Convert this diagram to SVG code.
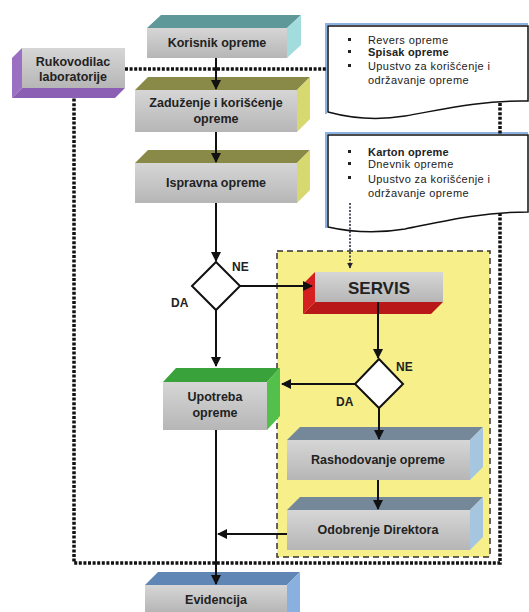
<svg xmlns="http://www.w3.org/2000/svg" width="529" height="612" viewBox="0 0 529 612">
<defs>
<linearGradient id="gface" x1="0" y1="0" x2="0" y2="1">
<stop offset="0" stop-color="#d6d6d6"/>
<stop offset="1" stop-color="#b6b6b6"/>
</linearGradient>
<marker id="ah" viewBox="0 0 10 10" refX="9" refY="5" markerWidth="5" markerHeight="5" orient="auto">
<path d="M0,0 L10,5 L0,10 z" fill="#111"/>
</marker>
<marker id="ah2" viewBox="0 0 10 10" refX="9" refY="5" markerWidth="4" markerHeight="4" orient="auto">
<path d="M0,0 L10,5 L0,10 z" fill="#223"/>
</marker>
</defs>
<style>
.face{fill:url(#gface);}
.lbl{font-family:"Liberation Sans",Arial,sans-serif;font-weight:bold;font-size:12.5px;fill:#222;text-anchor:middle;}
.doc{font-family:"Liberation Sans",Arial,sans-serif;font-size:11px;letter-spacing:0.4px;fill:#222;}
.b{font-weight:bold;letter-spacing:0.2px;}
.yn{font-family:"Liberation Sans",Arial,sans-serif;font-weight:bold;font-size:12px;fill:#222;}
.arr{stroke:#111;stroke-width:2;fill:none;marker-end:url(#ah);}
.dots{stroke:#111;stroke-width:3.5;fill:none;stroke-dasharray:3 1.6;}
.dia{fill:#fff;stroke:#111;stroke-width:2;}
.docshape{fill:#fff;stroke:#111;stroke-width:1.5;}
.docshadow{fill:none;stroke:#6f9fdc;stroke-width:2;opacity:0.8;}
</style>

<g id="servis-zone">
<rect x="277" y="251" width="213" height="306" fill="#f7ef8a" stroke="#333" stroke-width="1.5" stroke-dasharray="6 4"/>
</g>

<g id="doc1">
<path class="docshadow" d="M326,114 V24 H528"/>
<path class="docshape" d="M328,26 H528 V101 C480,100 440,110 405,116 C375,121 350,118 328,112 Z"/>
<rect x="348" y="38" width="3" height="3" fill="#222"/>
<rect x="348" y="50" width="3" height="3" fill="#222"/>
<rect x="348" y="64" width="3" height="3" fill="#222"/>
<text class="doc" x="368" y="44">Revers opreme</text>
<text class="doc b" x="368" y="56">Spisak opreme</text>
<text class="doc" x="368" y="70">Upustvo za korišćenje i</text>
<text class="doc" x="368" y="84">održavanje opreme</text>
</g>

<g id="doc2">
<path class="docshadow" d="M326,228 V133 H528"/>
<path class="docshape" d="M328,135 H528 V212 C480,212 440,222 405,229 C375,234 350,232 328,227 Z"/>
<rect x="348" y="150" width="3" height="3" fill="#222"/>
<rect x="348" y="162" width="3" height="3" fill="#222"/>
<rect x="348" y="176" width="3" height="3" fill="#222"/>
<text class="doc b" x="368" y="156">Karton opreme</text>
<text class="doc" x="368" y="168">Dnevnik opreme</text>
<text class="doc" x="368" y="183">Upustvo za korišćenje i</text>
<text class="doc" x="368" y="197">održavanje opreme</text>
</g>

<g id="rukovodilac">
<polygon points="22,48 22,88 12,98 12,58" fill="#9b6fc2"/>
<polygon points="22,88 125,88 115,98 12,98" fill="#8a5fb4"/>
<rect class="face" x="22" y="48" width="103" height="40"/>
<text class="lbl" x="73" y="66">Rukovodilac</text>
<text class="lbl" x="73" y="81">laboratorije</text>
</g>

<g id="korisnik">
<polygon points="147,28 161,15 301,15 287,28" fill="#5e9898"/>
<polygon points="287,28 301,15 301,45 287,58" fill="#a2dcdc"/>
<rect class="face" x="147" y="28" width="140" height="30"/>
<text class="lbl" x="217" y="47">Korisnik opreme</text>
</g>

<g id="zaduzenje">
<polygon points="135,90 148,77 310,77 297,90" fill="#8a8a48"/>
<polygon points="297,90 310,77 310,119 297,132" fill="#d8d870"/>
<rect class="face" x="135" y="90" width="162" height="42"/>
<text class="lbl" x="216" y="107">Zaduženje i korišćenje</text>
<text class="lbl" x="216" y="123">opreme</text>
</g>

<g id="ispravna">
<polygon points="135,163 148,150 310,150 297,163" fill="#8a8a48"/>
<polygon points="297,163 310,150 310,190 297,203" fill="#d8d870"/>
<rect class="face" x="135" y="163" width="162" height="40"/>
<text class="lbl" x="216" y="187">Ispravna opreme</text>
</g>

<g id="odluka1">
<polygon class="dia" points="216,262 240,286 216,310 192,286"/>
<text class="yn" x="232" y="271">NE</text>
<text class="yn" x="171" y="307">DA</text>
</g>

<g id="servis">
<polygon points="315,272 303,284 303,314 315,302" fill="#d42020"/>
<polygon points="315,302 443,302 431,314 303,314" fill="#b81818"/>
<rect class="face" x="315" y="272" width="128" height="30"/>
<text class="lbl" x="379" y="294" style="font-size:17px">SERVIS</text>
</g>

<g id="odluka2">
<polygon class="dia" points="379,359 403,384 379,408 355,384"/>
<text class="yn" x="396" y="371">NE</text>
<text class="yn" x="336" y="406">DA</text>
</g>

<g id="upotreba">
<polygon points="163,382 176,368 280,368 267,382" fill="#3aa23a"/>
<polygon points="267,382 280,368 280,416 267,430" fill="#52c04a"/>
<rect class="face" x="163" y="382" width="104" height="48"/>
<text class="lbl" x="215" y="401">Upotreba</text>
<text class="lbl" x="215" y="417">opreme</text>
</g>

<g id="rashodovanje">
<polygon points="287,440 300,427 483,427 470,440" fill="#74889a"/>
<polygon points="470,440 483,427 483,467 470,480" fill="#a6c6e0"/>
<rect class="face" x="287" y="440" width="183" height="40"/>
<text class="lbl" x="378" y="464">Rashodovanje opreme</text>
</g>

<g id="odobrenje">
<polygon points="287,510 300,497 483,497 470,510" fill="#74889a"/>
<polygon points="470,510 483,497 483,537 470,550" fill="#a6c6e0"/>
<rect class="face" x="287" y="510" width="183" height="40"/>
<text class="lbl" x="378" y="534">Odobrenje Direktora</text>
</g>

<g id="evidencija">
<polygon points="145,585 158,572 300,572 287,585" fill="#5f86b4"/>
<polygon points="287,585 300,572 300,612 287,612" fill="#8ab0e0"/>
<rect class="face" x="145" y="585" width="142" height="27"/>
<text class="lbl" x="216" y="604">Evidencija</text>
</g>

<g id="connectors">
<path class="dots" d="M125,69 H327"/>
<path class="dots" d="M500,103 V135"/>
<path class="dots" d="M500,213 V563 H74 V98"/>
<path d="M350,203 V268" stroke="#223" stroke-width="1.5" stroke-dasharray="2 1.5" fill="none" marker-end="url(#ah2)"/>
<path class="arr" d="M216,58 V89"/>
<path class="arr" d="M216,132 V162"/>
<path class="arr" d="M216,203 V261"/>
<path class="arr" d="M216,310 V366"/>
<path class="arr" d="M240,286 H312"/>
<path class="arr" d="M378,302 V358"/>
<path class="arr" d="M355,384 H282"/>
<path class="arr" d="M379,408 V439"/>
<path class="arr" d="M378,480 V509"/>
<path class="arr" d="M287,534 H218"/>
<path class="arr" d="M216,430 V584"/>
</g>
</svg>
